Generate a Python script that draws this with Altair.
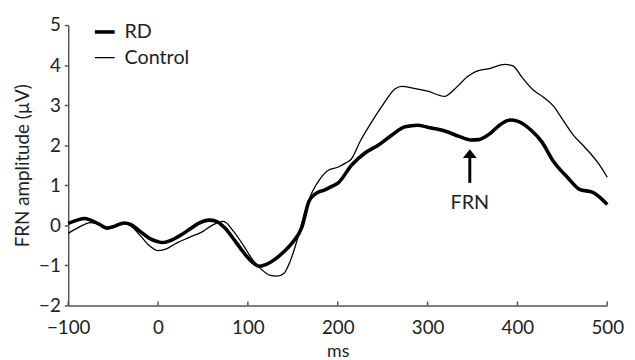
import altair as alt
import pandas as pd

rd_ms = [-100, -90, -82, -75, -65, -57, -48, -38, -30, -20, -10, 0, 5, 15, 25, 35, 45, 57, 65, 75, 85, 95, 105, 113, 120, 130, 140, 150, 160, 168, 176, 185, 194, 200, 216, 230, 245, 260, 275, 289, 300, 320, 335, 348, 357, 370, 380, 392, 400, 415, 427, 440, 456, 469, 484, 500]
rd_uv = [0.05, 0.13, 0.17, 0.13, 0.02, -0.07, -0.02, 0.06, 0.02, -0.15, -0.32, -0.41, -0.43, -0.37, -0.25, -0.1, 0.05, 0.13, 0.1, -0.08, -0.37, -0.67, -0.92, -1.02, -0.98, -0.85, -0.66, -0.42, -0.05, 0.6, 0.8, 0.88, 0.98, 1.05, 1.52, 1.8, 2.0, 2.25, 2.46, 2.5, 2.45, 2.35, 2.22, 2.13, 2.14, 2.3, 2.5, 2.63, 2.6, 2.38, 2.09, 1.6, 1.19, 0.9, 0.82, 0.52]

ctl_ms = [-100, -90, -75, -65, -57, -48, -38, -30, -20, -10, 0, 10, 20, 35, 50, 60, 73, 84, 95, 105, 115, 125, 132, 140, 147, 157, 165, 172, 180, 190, 200, 209, 215, 225, 238, 250, 264, 271, 285, 300, 319, 330, 345, 352, 370, 386, 395, 405, 418, 429, 440, 450, 462, 475, 490, 500]
ctl_uv = [-0.2, -0.07, 0.07, 0.02, -0.07, -0.02, 0.05, -0.02, -0.25, -0.5, -0.63, -0.58, -0.45, -0.3, -0.15, 0.0, 0.1, -0.15, -0.5, -0.85, -1.1, -1.25, -1.27, -1.2, -0.9, -0.2, 0.45, 0.85, 1.15, 1.38, 1.45, 1.56, 1.65, 2.1, 2.59, 3.0, 3.41, 3.47, 3.42, 3.35, 3.22, 3.4, 3.72, 3.82, 3.92, 4.02, 3.98, 3.7, 3.37, 3.2, 2.98, 2.65, 2.26, 1.95, 1.55, 1.2]

series_names = ["RD", "Control"]
x_ticks = [-100, 0, 100, 200, 300, 400, 500]
y_ticks = [-2, -1, 0, 1, 2, 3, 4, 5]

arrow_ms = 347
arrow_base = 1.06
arrow_head = 1.79
label_uv = 0.55
label_text = "FRN"

W, H = 546, 284
FONT = "Lato"
AXIS_COLOR = "#555555"
TEXT_COLOR = "#222222"

df = pd.concat([
    pd.DataFrame({"ms": rd_ms, "uv": rd_uv, "group": series_names[0]}),
    pd.DataFrame({"ms": ctl_ms, "uv": ctl_uv, "group": series_names[1]}),
])

xscale = alt.Scale(domain=[x_ticks[0], x_ticks[-1]], nice=False)
yscale = alt.Scale(domain=[y_ticks[0], y_ticks[-1]], nice=False)

lines = alt.Chart(df).mark_line(color="black", interpolate="monotone").encode(
    x=alt.X("ms:Q", scale=xscale,
            axis=alt.Axis(values=x_ticks, ticks=False, title="ms", labelPadding=13,
                          labelFlush=False, titlePadding=6, titleFontSize=18, grid=False)),
    y=alt.Y("uv:Q", scale=yscale,
            axis=alt.Axis(values=y_ticks, title="FRN amplitude (µV)", tickSize=4,
                          labelPadding=4, labelFlush=False, titlePadding=6,
                          titleFontSize=19, grid=False)),
    strokeWidth=alt.StrokeWidth(
        "group:N",
        scale=alt.Scale(domain=series_names, range=[3.6, 1.3]),
        sort=series_names,
        legend=alt.Legend(title=None, orient="none", legendX=25, legendY=-5,
                          symbolType="stroke", symbolSize=400, symbolStrokeColor="black",
                          labelFontSize=20, labelFont=FONT, labelColor=TEXT_COLOR,
                          labelOffset=8, rowPadding=5, padding=0),
    ),
    detail="group:N",
)

tick_df = pd.DataFrame({"ms": x_ticks})
xticks = alt.Chart(tick_df).mark_rule(color=AXIS_COLOR, strokeWidth=1.5).encode(
    x=alt.X("ms:Q", scale=xscale),
    y=alt.value(H),
    y2=alt.value(H - 4),
)

arrow_df = pd.DataFrame({"ms": [arrow_ms], "y0": [arrow_base], "y1": [arrow_head],
                         "ly": [label_uv], "txt": [label_text]})
shaft = alt.Chart(arrow_df).mark_rule(color="black", strokeWidth=3).encode(
    x=alt.X("ms:Q", scale=xscale), y=alt.Y("y0:Q", scale=yscale), y2="y1:Q")
head = alt.Chart(arrow_df).mark_point(
    shape="M-0.7,0.45L0,-0.45L0.7,0.45Z", size=400, filled=True, color="black", opacity=1
).encode(x=alt.X("ms:Q", scale=xscale), y=alt.Y("y1:Q", scale=yscale))
label = alt.Chart(arrow_df).mark_text(font=FONT, fontSize=20, color=TEXT_COLOR).encode(
    x=alt.X("ms:Q", scale=xscale), y=alt.Y("ly:Q", scale=yscale), text="txt:N")

chart = alt.layer(lines, xticks, shaft, head, label).properties(
    width=W, height=H,
    autosize=alt.AutoSizeParams(type="none"),
    padding={"left": 61, "top": 15, "right": 20, "bottom": 53},
).configure_view(stroke=None).configure_axis(
    domainColor=AXIS_COLOR, domainWidth=1.5, tickColor=AXIS_COLOR, tickWidth=1.5,
    labelFont=FONT, labelFontSize=19, labelColor=TEXT_COLOR,
    titleFont=FONT, titleFontWeight="normal", titleColor=TEXT_COLOR,
)

chart.save("out.html", embed_options={"renderer": "svg", "actions": False})
